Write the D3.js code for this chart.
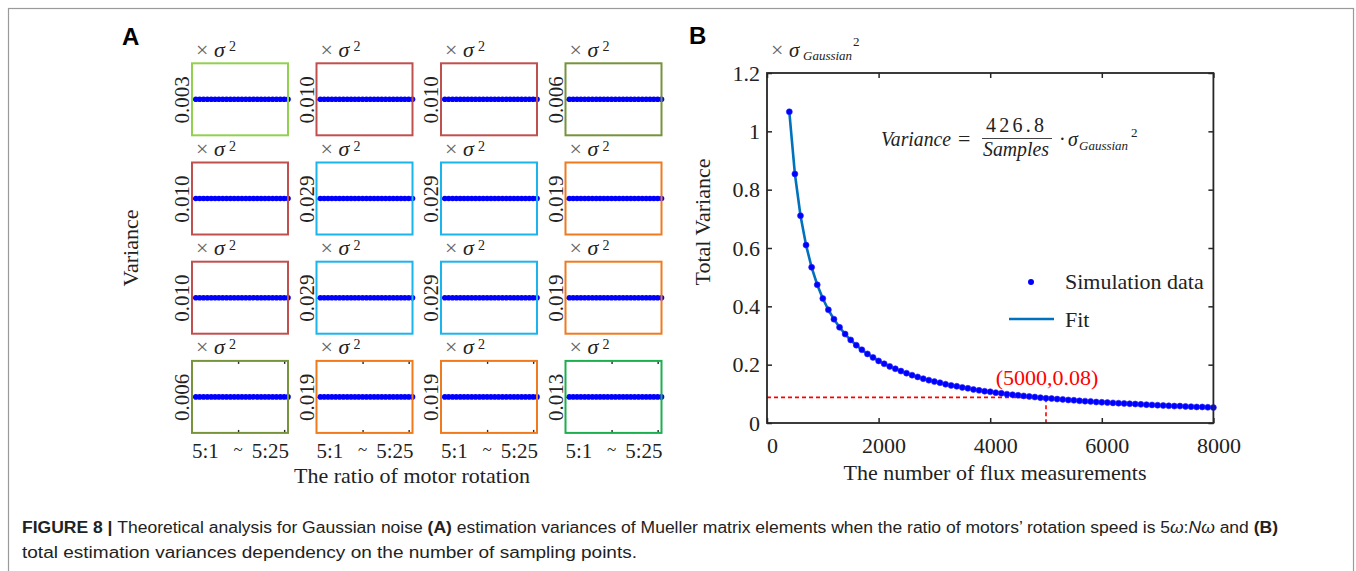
<!DOCTYPE html>
<html>
<head>
<meta charset="utf-8">
<script src="https://cdn.jsdelivr.net/npm/d3@7"></script>
<style>
  html, body { margin: 0; padding: 0; background: #fff; }
  svg { display: block; }
  .serif { font-family: "Liberation Serif", "Times New Roman", serif; }
  .sans { font-family: "Liberation Sans", Arial, sans-serif; }
</style>
</head>
<body>
<script>
// ---------------- DATA ----------------
// Panel A: ratio of motor rotation 5:1 ... 5:25
const ratios = [1,2,3,4,5,6,7,8,9,10,11,12,13,14,15,16,17,18,19,20,21,22,23,24,25];
const ratioTicks = [12, 24];
const ratioLabels = ["5:1", "~", "5:25"];
// estimation variance (x sigma^2) of the 16 Mueller matrix elements, row by row
const panelValues = [
  0.003, 0.010, 0.010, 0.006,
  0.010, 0.029, 0.029, 0.019,
  0.010, 0.029, 0.029, 0.019,
  0.006, 0.019, 0.019, 0.013
];
const panelColors = [
  "#92D050", "#C0504D", "#C0504D", "#77933C",
  "#C0504D", "#1CB4EC", "#1CB4EC", "#F07B1E",
  "#C0504D", "#1CB4EC", "#1CB4EC", "#F07B1E",
  "#77933C", "#F07B1E", "#F07B1E", "#1DAF4F"
];

// Panel B: total variance vs number of flux measurements
const samples = [400,500,600,700,800,900,1000,1100,1200,1300,1400,1500,1600,1700,1800,1900,
  2000,2100,2200,2300,2400,2500,2600,2700,2800,2900,3000,3100,3200,3300,3400,3500,3600,3700,
  3800,3900,4000,4100,4200,4300,4400,4500,4600,4700,4800,4900,5000,5100,5200,5300,5400,5500,
  5600,5700,5800,5900,6000,6100,6200,6300,6400,6500,6600,6700,6800,6900,7000,7100,7200,7300,
  7400,7500,7600,7700,7800,7900,8000];
const simVariance = [1.067,0.854,0.711,0.610,0.534,0.474,0.427,0.388,0.356,0.328,0.305,0.285,
  0.267,0.251,0.237,0.225,0.213,0.203,0.194,0.186,0.178,0.171,0.164,0.158,0.152,0.147,0.142,
  0.138,0.133,0.129,0.126,0.122,0.119,0.115,0.112,0.109,0.107,0.104,0.102,0.099,0.097,0.095,
  0.093,0.091,0.089,0.087,0.085,0.084,0.082,0.081,0.079,0.078,0.076,0.075,0.074,0.072,0.071,
  0.070,0.069,0.068,0.067,0.066,0.065,0.064,0.063,0.062,0.061,0.060,0.059,0.058,0.058,0.057,
  0.056,0.055,0.055,0.054,0.053];
const fitVariance = [1.0670,0.8536,0.7113,0.6097,0.5335,0.4742,0.4268,0.3880,0.3557,0.3283,
  0.3049,0.2845,0.2668,0.2511,0.2371,0.2246,0.2134,0.2032,0.1940,0.1856,0.1778,0.1707,0.1642,
  0.1581,0.1524,0.1472,0.1423,0.1377,0.1334,0.1293,0.1255,0.1219,0.1186,0.1154,0.1123,0.1094,
  0.1067,0.1041,0.1016,0.0993,0.0970,0.0948,0.0928,0.0908,0.0889,0.0871,0.0854,0.0837,0.0821,
  0.0805,0.0790,0.0776,0.0762,0.0749,0.0736,0.0723,0.0711,0.0700,0.0688,0.0677,0.0667,0.0657,
  0.0647,0.0637,0.0628,0.0619,0.0610,0.0601,0.0593,0.0585,0.0577,0.0569,0.0562,0.0554,0.0547,
  0.0540,0.0534];
const xTicksB = [0, 2000, 4000, 6000, 8000];
const yTicksB = [0, 0.2, 0.4, 0.6, 0.8, 1, 1.2];
const markPoint = [5000, 0.088];
const markLabel = "(5000,0.08)";
const legendLabels = ["Simulation data", "Fit"];

// ---------------- LAYOUT ----------------
const W = 1356, H = 571;
const svg = d3.select("body").append("svg").attr("width", W).attr("height", H);
const AX = "#262626";

// outer frame
svg.append("rect").attr("x", 8.5).attr("y", 8.5).attr("width", 1345).attr("height", 620)
  .attr("fill", "none").attr("stroke", "#9a9a9a").attr("stroke-width", 1.2);

// panel letters
svg.append("text").attr("class", "sans").attr("x", 122).attr("y", 45)
  .attr("font-size", 24).attr("font-weight", "bold").text("A");
svg.append("text").attr("class", "sans").attr("x", 689).attr("y", 44)
  .attr("font-size", 24).attr("font-weight", "bold").text("B");

// ---------------- PANEL A ----------------
const pw = 96, ph = 72;
const colX = c => 192 + c * 124.5;
const rowY = r => 63.3 + r * 99.2;

panelValues.forEach((v, i) => {
  const r = Math.floor(i / 4), c = i % 4;
  const g = svg.append("g").attr("transform", `translate(${colX(c)},${rowY(r)})`);
  const x = d3.scaleLinear().domain([0, 25]).range([0, pw]);
  const y = d3.scaleLinear().domain([0, 2 * v]).range([ph, 0]);

  // y tick (inside) with rotated label
  const ya = g.append("g").call(d3.axisLeft(y).tickValues([v]).tickFormat(d3.format(".3f"))
      .tickSize(-3).tickPadding(3));
  ya.select(".domain").remove();
  ya.selectAll("line").attr("stroke", AX).attr("stroke-width", 1.2);
  ya.selectAll("text").attr("class", "serif").attr("font-size", 21).attr("fill", "#222")
    .attr("transform", "rotate(-90)").attr("x", 0).attr("y", -3).attr("dy", 0)
    .attr("text-anchor", "middle");

  if (r === 3) {
    [d3.axisBottom(x).tickSize(-3), d3.axisTop(x).tickSize(-3)].forEach((ax, k) => {
      const a = g.append("g").attr("transform", `translate(0,${k === 0 ? ph : 0})`)
        .call(ax.tickValues(ratioTicks).tickFormat(""));
      a.select(".domain").remove();
      a.selectAll("line").attr("stroke", AX).attr("stroke-width", 1.4);
    });
  }

  // data
  const line = d3.line().x(d => x(d)).y(() => y(v));
  g.append("path").datum(ratios).attr("d", line).attr("fill", "none")
    .attr("stroke", "#0000ff").attr("stroke-width", 1.8);
  g.selectAll("circle").data(ratios).join("circle")
    .attr("cx", d => x(d)).attr("cy", () => y(v)).attr("r", 2.8).attr("fill", "#0000ff");

  // box
  g.append("rect").attr("width", pw).attr("height", ph).attr("fill", "none")
    .attr("stroke", panelColors[i]).attr("stroke-width", 2);

  // x sigma^2
  const t = g.append("text").attr("class", "serif").attr("y", -6.5).attr("font-size", 22);
  t.append("tspan").attr("x", 4).attr("fill", "#666").text("\u00D7");
  t.append("tspan").attr("x", 22).attr("font-style", "italic").attr("fill", "#222").text("\u03C3");
  g.append("text").attr("class", "serif").attr("x", 37).attr("y", -12).attr("font-size", 14)
    .attr("fill", "#222").text("2");

  if (r === 3) {
    const lt = g.append("g").attr("class", "serif").attr("fill", "#222");
    lt.append("text").attr("x", 0).attr("y", ph + 25).attr("font-size", 21).text(ratioLabels[0]);
    lt.append("text").attr("x", 46).attr("y", ph + 22).attr("font-size", 17)
      .attr("text-anchor", "middle").text(ratioLabels[1]);
    lt.append("text").attr("x", pw + 1).attr("y", ph + 25).attr("font-size", 21)
      .attr("text-anchor", "end").text(ratioLabels[2]);
  }
});

svg.append("text").attr("class", "serif").attr("font-size", 22).attr("fill", "#222")
  .attr("text-anchor", "middle").attr("transform", "translate(138,248) rotate(-90)")
  .text("Variance");
svg.append("text").attr("class", "serif").attr("font-size", 22).attr("fill", "#222")
  .attr("text-anchor", "middle").attr("x", 412).attr("y", 483)
  .text("The ratio of motor rotation");

// ---------------- PANEL B ----------------
const bL = 767, bR = 1213.4, bT = 73, bB = 423;
const xB = d3.scaleLinear().domain([0, 8000]).range([bL, bR]);
const yB = d3.scaleLinear().domain([0, 1.2]).range([bB, bT]);
const gB = svg.append("g");

function styleAxis(a, withText, dx) {
  a.select(".domain").remove();
  a.selectAll("line").attr("stroke", AX).attr("stroke-width", 1.5);
  if (withText) a.selectAll("text").attr("class", "serif").attr("font-size", 22)
    .attr("fill", "#222").attr("dx", dx || 0);
  else a.selectAll("text").remove();
}
styleAxis(gB.append("g").attr("transform", `translate(0,${bB})`)
  .call(d3.axisBottom(xB).tickValues(xTicksB).tickSize(-5).tickPadding(14).tickFormat(d3.format("d"))), true, 5);
styleAxis(gB.append("g").attr("transform", `translate(0,${bT})`)
  .call(d3.axisTop(xB).tickValues(xTicksB).tickSize(-5)), false);
styleAxis(gB.append("g").attr("transform", `translate(${bL},0)`)
  .call(d3.axisLeft(yB).tickValues(yTicksB).tickSize(-5).tickPadding(7).tickFormat(d => d3.format("")(+d.toFixed(1)))), true, 0);
styleAxis(gB.append("g").attr("transform", `translate(${bR},0)`)
  .call(d3.axisRight(yB).tickValues(yTicksB).tickSize(-5)), false);

// red dashed marker
gB.append("path")
  .attr("d", `M${xB(0)},${yB(markPoint[1])}H${xB(markPoint[0])}V${yB(0)}`)
  .attr("fill", "none").attr("stroke", "#ff0000").attr("stroke-width", 1.6)
  .attr("stroke-dasharray", "4,3");

// fit line and points
gB.append("path").datum(samples.map((s, i) => [s, fitVariance[i]]))
  .attr("d", d3.line().x(d => xB(d[0])).y(d => yB(d[1])))
  .attr("fill", "none").attr("stroke", "#0072BD").attr("stroke-width", 2.6);
gB.selectAll("circle.sim").data(samples.map((s, i) => [s, simVariance[i]])).join("circle")
  .attr("class", "sim").attr("cx", d => xB(d[0])).attr("cy", d => yB(d[1])).attr("r", 3)
  .attr("fill", "#0000ff").attr("stroke", "#2a2aff").attr("stroke-width", 0.6);

// frame
gB.append("rect").attr("x", bL).attr("y", bT).attr("width", bR - bL).attr("height", bB - bT)
  .attr("fill", "none").attr("stroke", AX).attr("stroke-width", 1.8);

gB.append("text").attr("class", "serif").attr("font-size", 22).attr("fill", "#ff0000")
  .attr("text-anchor", "middle").attr("x", 1047).attr("y", 385).text(markLabel);

// legend
gB.append("circle").attr("cx", 1031).attr("cy", 282).attr("r", 3).attr("fill", "#0000ff");
gB.append("text").attr("class", "serif").attr("font-size", 22).attr("fill", "#222")
  .attr("x", 1065).attr("y", 289).text(legendLabels[0]);
gB.append("line").attr("x1", 1009).attr("x2", 1054).attr("y1", 319).attr("y2", 319)
  .attr("stroke", "#0072BD").attr("stroke-width", 2.6);
gB.append("text").attr("class", "serif").attr("font-size", 22).attr("fill", "#222")
  .attr("x", 1065).attr("y", 327).text(legendLabels[1]);

// axis titles
svg.append("text").attr("class", "serif").attr("font-size", 22).attr("fill", "#222")
  .attr("text-anchor", "middle").attr("transform", "translate(710,222) rotate(-90)")
  .text("Total Variance");
svg.append("text").attr("class", "serif").attr("font-size", 22).attr("fill", "#222")
  .attr("text-anchor", "middle").attr("x", 995).attr("y", 480)
  .text("The number of flux measurements");

// unit label  x sigma_Gaussian^2
const u = svg.append("g").attr("class", "serif").attr("fill", "#222");
u.append("text").attr("x", 771).attr("y", 57).attr("font-size", 22).attr("fill", "#666").text("\u00D7");
u.append("text").attr("x", 789).attr("y", 57).attr("font-size", 21).attr("font-style", "italic").text("\u03C3");
u.append("text").attr("x", 803).attr("y", 60).attr("font-size", 13).attr("font-style", "italic").text("Gaussian");
u.append("text").attr("x", 853).attr("y", 46).attr("font-size", 13).text("2");

// formula
const f = svg.append("g").attr("class", "serif").attr("fill", "#222");
f.append("text").attr("x", 881).attr("y", 146).attr("font-size", 20).attr("font-style", "italic")
  .attr("textLength", 70).attr("lengthAdjust", "spacingAndGlyphs").text("Variance");
f.append("text").attr("x", 958).attr("y", 146).attr("font-size", 22).text("=");
f.append("text").attr("x", 1015).attr("y", 132).attr("font-size", 20).attr("text-anchor", "middle")
  .attr("textLength", 58).attr("lengthAdjust", "spacing").text("426.8");
f.append("line").attr("x1", 982).attr("x2", 1052).attr("y1", 138.5).attr("y2", 138.5)
  .attr("stroke", "#444").attr("stroke-width", 1);
f.append("text").attr("x", 1016).attr("y", 156).attr("font-size", 20).attr("font-style", "italic")
  .attr("text-anchor", "middle").attr("textLength", 66).attr("lengthAdjust", "spacingAndGlyphs")
  .text("Samples");
f.append("text").attr("x", 1059).attr("y", 146).attr("font-size", 20).text("\u00B7");
f.append("text").attr("x", 1068).attr("y", 146).attr("font-size", 20).attr("font-style", "italic").text("\u03C3");
f.append("text").attr("x", 1079).attr("y", 150).attr("font-size", 13).attr("font-style", "italic").text("Gaussian");
f.append("text").attr("x", 1131).attr("y", 137).attr("font-size", 13).text("2");

// ---------------- CAPTION ----------------
const cap1 = svg.append("text").attr("class", "sans").attr("x", 22).attr("y", 533)
  .attr("font-size", 16).attr("fill", "#222")
  .attr("textLength", 1256).attr("lengthAdjust", "spacingAndGlyphs");
cap1.append("tspan").attr("font-weight", "bold").text("FIGURE 8 | ");
cap1.append("tspan").text("Theoretical analysis for Gaussian noise ");
cap1.append("tspan").attr("font-weight", "bold").text("(A)");
cap1.append("tspan").text(" estimation variances of Mueller matrix elements when the ratio of motors\u2019 rotation speed is 5");
cap1.append("tspan").attr("font-style", "italic").text("\u03C9");
cap1.append("tspan").text(":");
cap1.append("tspan").attr("font-style", "italic").text("N\u03C9");
cap1.append("tspan").text(" and ");
cap1.append("tspan").attr("font-weight", "bold").text("(B)");

svg.append("text").attr("class", "sans").attr("x", 22).attr("y", 558)
  .attr("font-size", 16).attr("fill", "#222")
  .attr("textLength", 615).attr("lengthAdjust", "spacingAndGlyphs")
  .text("total estimation variances dependency on the number of sampling points.");
</script>
</body>
</html>
